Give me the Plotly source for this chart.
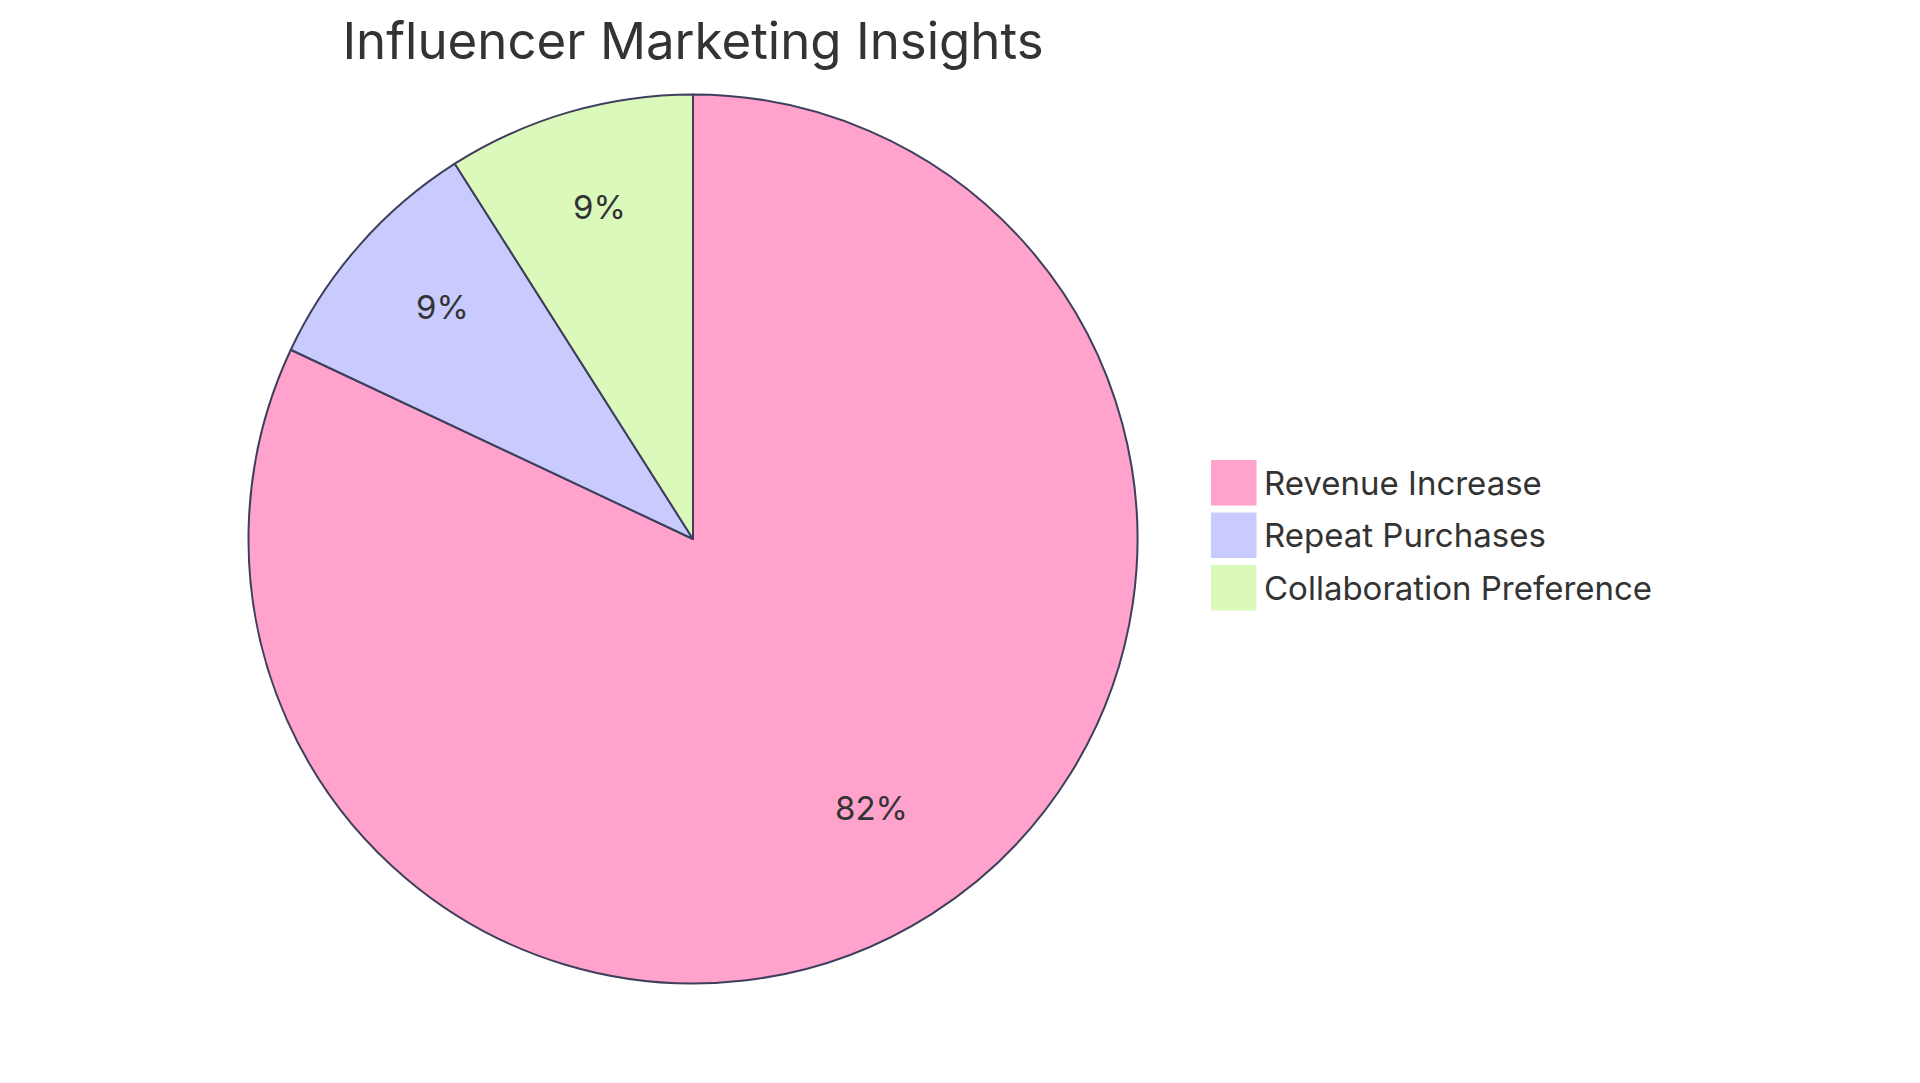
import math
import plotly.graph_objects as go

# ---- data ----
labels = ["Revenue Increase", "Repeat Purchases", "Collaboration Preference"]
values = [82, 9, 9]
colors = ["#FFA2CC", "#C9CBFE", "#DBF9BB"]
title_text = "Influencer Marketing Insights"

# ---- layout constants ----
W, H = 1920, 1083
CX, CY, R = 693, 539, 444.5
FONT = "Inter, Lato, sans-serif"
TEXT_COLOR = "#333333"
STROKE = "#3E3F5C"

fig = go.Figure()
fig.add_trace(go.Pie(
    labels=labels,
    values=values,
    sort=False,
    direction="clockwise",
    rotation=0,
    marker=dict(colors=colors, line=dict(color=STROKE, width=2)),
    textinfo="none",
    hoverinfo="label+percent",
    showlegend=False,
    domain=dict(x=[(CX - R) / W, (CX + R) / W],
                y=[1 - (CY + R) / H, 1 - (CY - R) / H]),
))

annotations = []
# percentage labels at 0.75 radius on the slice mid-angle
total = sum(values)
cum = 0.0
for v in values:
    mid = (cum + v / 2) / total * 2 * math.pi
    cum += v
    px = CX + 0.75 * R * math.sin(mid)
    py = CY - 0.75 * R * math.cos(mid)
    annotations.append(dict(
        x=px / W, y=1 - py / H, xref="paper", yref="paper",
        text=f"{round(v / total * 100)}%", showarrow=False,
        xanchor="center", yanchor="middle", yshift=12,
        font=dict(family=FONT, size=33, color=TEXT_COLOR),
    ))

# legend built from the same label/colour arrays
shapes = []
LX, LY0, LSTEP, LS = 1211, 460, 52.5, 45.5
for i, (lab, col) in enumerate(zip(labels, colors)):
    top = LY0 + i * LSTEP
    shapes.append(dict(
        type="rect", xref="paper", yref="paper",
        x0=LX / W, x1=(LX + LS) / W, y0=1 - (top + LS) / H, y1=1 - top / H,
        fillcolor=col, line=dict(color=col, width=0),
    ))
    annotations.append(dict(
        x=(LX + LS + 5) / W, y=1 - (top + LS / 2) / H, xref="paper", yref="paper",
        text=lab, showarrow=False, xanchor="left", yanchor="middle",
        font=dict(family=FONT, size=33, color=TEXT_COLOR),
    ))

fig.update_layout(
    width=W, height=H,
    margin=dict(l=0, r=0, t=0, b=0),
    paper_bgcolor="white", plot_bgcolor="white",
    title=dict(text=title_text, x=CX / W, xanchor="center",
               y=1 - 41 / H, yanchor="middle", yref="container",
               font=dict(family=FONT, size=51, color=TEXT_COLOR)),
    annotations=annotations,
    shapes=shapes,
)

fig.write_html("out.html",
               config={"displayModeBar": False},
               post_script="document.body.style.margin='0';document.body.style.overflow='hidden';")
